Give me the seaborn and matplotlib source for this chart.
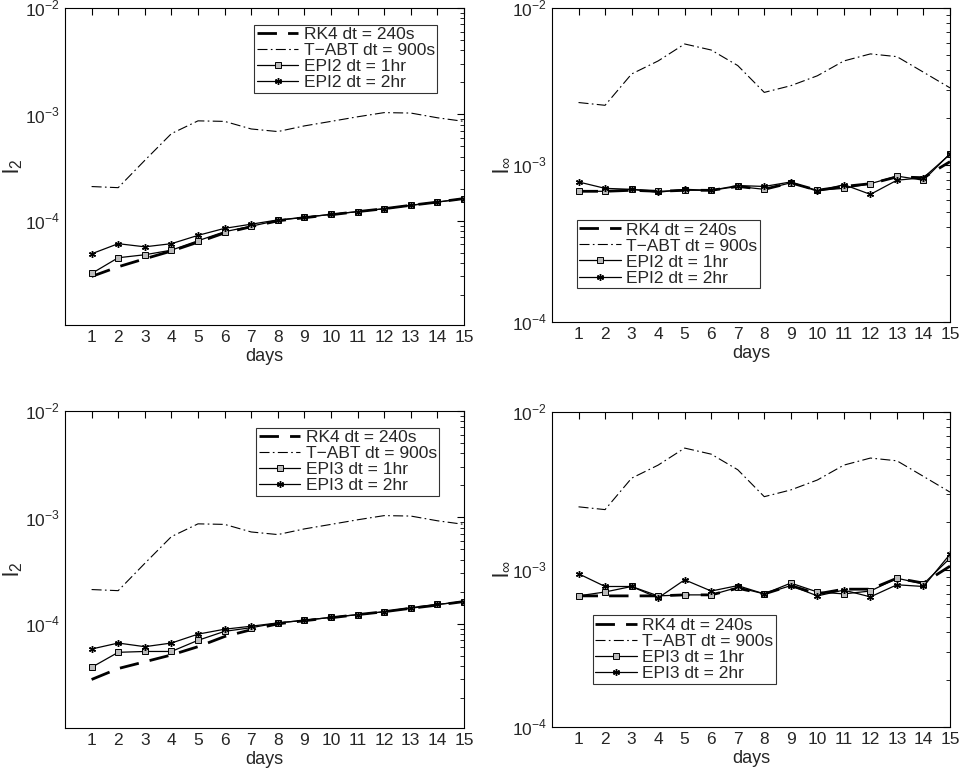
import numpy as np
import pandas as pd
import matplotlib
matplotlib.use("Agg")
import matplotlib.pyplot as plt
import seaborn as sns

sns.set_style("white")
plt.rcParams['font.family'] = ['Liberation Sans', 'DejaVu Sans']
plt.rcParams['mathtext.fontset'] = 'custom'
plt.rcParams['mathtext.rm'] = 'Liberation Sans'

days = list(range(1, 16))

tabt_l2 = [2.1e-4, 2.05e-4, 3.7e-4, 6.6e-4, 8.7e-4, 8.6e-4, 7.3e-4, 6.9e-4, 7.8e-4, 8.6e-4, 9.5e-4, 1.04e-3, 1.03e-3, 9.3e-4, 8.6e-4]
tabt_linf = [2.5e-3, 2.4e-3, 3.8e-3, 4.6e-3, 5.9e-3, 5.4e-3, 4.3e-3, 2.9e-3, 3.2e-3, 3.7e-3, 4.6e-3, 5.1e-3, 4.9e-3, 3.9e-3, 3.1e-3]

rk4_l2_a = [3.0e-5, 3.7e-5, 4.4e-5, 5.2e-5, 6.3e-5, 7.7e-5, 8.8e-5, 1.0e-4, 1.07e-4, 1.14e-4, 1.22e-4, 1.3e-4, 1.4e-4, 1.5e-4, 1.62e-4]
epi2_1hr_l2 = [3.2e-5, 4.5e-5, 4.8e-5, 5.3e-5, 6.5e-5, 7.9e-5, 8.9e-5, 1.01e-4, 1.08e-4, 1.15e-4, 1.22e-4, 1.3e-4, 1.4e-4, 1.5e-4, 1.62e-4]
epi2_2hr_l2 = [4.9e-5, 6.1e-5, 5.7e-5, 6.1e-5, 7.3e-5, 8.5e-5, 9.3e-5, 1.02e-4, 1.08e-4, 1.15e-4, 1.22e-4, 1.3e-4, 1.4e-4, 1.5e-4, 1.62e-4]

rk4_linf_a = [6.8e-4, 6.8e-4, 6.9e-4, 6.8e-4, 6.9e-4, 6.9e-4, 7.3e-4, 7.0e-4, 7.7e-4, 6.9e-4, 7.3e-4, 7.6e-4, 8.4e-4, 8.3e-4, 1.05e-3]
epi2_1hr_linf = [6.8e-4, 6.8e-4, 7.0e-4, 6.8e-4, 6.9e-4, 6.9e-4, 7.3e-4, 7.0e-4, 7.7e-4, 6.9e-4, 7.1e-4, 7.6e-4, 8.5e-4, 8.0e-4, 1.18e-3]
epi2_2hr_linf = [7.8e-4, 7.1e-4, 7.0e-4, 6.7e-4, 7.0e-4, 6.9e-4, 7.4e-4, 7.3e-4, 7.8e-4, 6.8e-4, 7.5e-4, 6.5e-4, 8.0e-4, 8.3e-4, 1.17e-3]

rk4_l2_b = [3.0e-5, 3.8e-5, 4.4e-5, 5.1e-5, 6.1e-5, 7.6e-5, 8.8e-5, 1.0e-4, 1.07e-4, 1.14e-4, 1.22e-4, 1.3e-4, 1.4e-4, 1.5e-4, 1.62e-4]
epi3_1hr_l2 = [3.9e-5, 5.4e-5, 5.5e-5, 5.5e-5, 7.0e-5, 8.5e-5, 9.2e-5, 1.02e-4, 1.08e-4, 1.15e-4, 1.22e-4, 1.3e-4, 1.4e-4, 1.52e-4, 1.62e-4]
epi3_2hr_l2 = [5.8e-5, 6.6e-5, 6.1e-5, 6.6e-5, 8.0e-5, 8.9e-5, 9.5e-5, 1.02e-4, 1.08e-4, 1.15e-4, 1.22e-4, 1.3e-4, 1.42e-4, 1.52e-4, 1.62e-4]

rk4_linf_b = [6.8e-4, 6.8e-4, 6.8e-4, 6.8e-4, 6.9e-4, 6.9e-4, 7.6e-4, 7.0e-4, 7.9e-4, 7.0e-4, 7.5e-4, 7.5e-4, 8.8e-4, 8.2e-4, 1.05e-3]
epi3_1hr_linf = [6.8e-4, 7.2e-4, 7.8e-4, 6.8e-4, 6.9e-4, 6.9e-4, 7.7e-4, 7.0e-4, 8.2e-4, 7.2e-4, 7.0e-4, 7.3e-4, 8.8e-4, 8.1e-4, 1.18e-3]
epi3_2hr_linf = [9.4e-4, 7.8e-4, 7.8e-4, 6.6e-4, 8.6e-4, 7.3e-4, 7.9e-4, 7.0e-4, 7.9e-4, 6.8e-4, 7.4e-4, 6.7e-4, 8.0e-4, 7.8e-4, 1.25e-3]

fig = plt.figure(figsize=(9.6, 7.73), dpi=100)
W, H = 960, 773
def add(l, t, r, b):
    return fig.add_axes([l / W, 1 - b / H, (r - l) / W, (b - t) / H])

axes = [add(65, 8, 464, 325), add(552, 8, 950, 322),
        add(65, 411, 464, 728), add(552, 412, 950, 727)]

panels = [
    (axes[0], rk4_l2_a, tabt_l2, epi2_1hr_l2, epi2_2hr_l2, "EPI2", "$\\mathrm{l}_2$", (1.05e-5, 1e-2), "upper right", (0.955, 0.975)),
    (axes[1], rk4_linf_a, tabt_linf, epi2_1hr_linf, epi2_2hr_linf, "EPI2", "$\\mathrm{l}_\\infty$", (1e-4, 1e-2), "lower left", (0.04, 0.08)),
    (axes[2], rk4_l2_b, tabt_l2, epi3_1hr_l2, epi3_2hr_l2, "EPI3", "$\\mathrm{l}_2$", (1.05e-5, 1e-2), "upper right", (0.96, 0.975)),
    (axes[3], rk4_linf_b, tabt_linf, epi3_1hr_linf, epi3_2hr_linf, "EPI3", "$\\mathrm{l}_\\infty$", (1e-4, 1e-2), "lower left", (0.08, 0.11)),
]

for ax, rk, tb, e1, e2, name, ylab, ylim, loc, anchor in panels:
    sns.lineplot(x=days, y=rk, ax=ax, color='k', lw=2.0, dashes=False, label="RK4 dt = 240s")
    ax.lines[-1].set_dashes([7, 4])
    sns.lineplot(x=days, y=tb, ax=ax, color='k', lw=0.8, label="T\u2212ABT dt = 900s")
    ax.lines[-1].set_dashes([9, 3, 1.5, 3])
    sns.lineplot(x=days, y=e1, ax=ax, color='k', lw=0.9, marker='s', markersize=4.5,
                 markerfacecolor='#bbbbbb', markeredgecolor='k', markeredgewidth=0.7, label=f"{name} dt = 1hr")
    sns.lineplot(x=days, y=e2, ax=ax, color='k', lw=0.9, marker=(6, 2, 0), markersize=5,
                 markeredgecolor='k', markeredgewidth=1.0, label=f"{name} dt = 2hr")
    ax.set_yscale('log')
    ax.set_ylim(*ylim)
    ax.set_xlim(0, 15)
    ax.set_xticks(days)
    ax.set_yticks([1e-4, 1e-3, 1e-2])
    ax.set_yticklabels(["$10^{-4}$", "$10^{-3}$", "$10^{-2}$"])
    ax.tick_params(which='both', direction='in', top=True, right=True, labelsize=12.5, color='k')
    ax.tick_params(which='major', length=5)
    ax.tick_params(which='minor', length=3)
    ax.xaxis.set_minor_locator(matplotlib.ticker.NullLocator())
    for s in ax.spines.values():
        s.set_color('k'); s.set_linewidth(0.8)
    ax.set_xlabel("days", fontsize=13, labelpad=2)
    ax.set_ylabel(ylab, fontsize=16, labelpad=0)
    leg = ax.legend(loc=loc, bbox_to_anchor=anchor, fontsize=12.5, frameon=True, fancybox=False,
                    edgecolor='k', handlelength=2.4, borderpad=0.15, labelspacing=0.05, handletextpad=0.3)
    leg.get_frame().set_linewidth(0.8)

fig.savefig("out.png", dpi=100)
